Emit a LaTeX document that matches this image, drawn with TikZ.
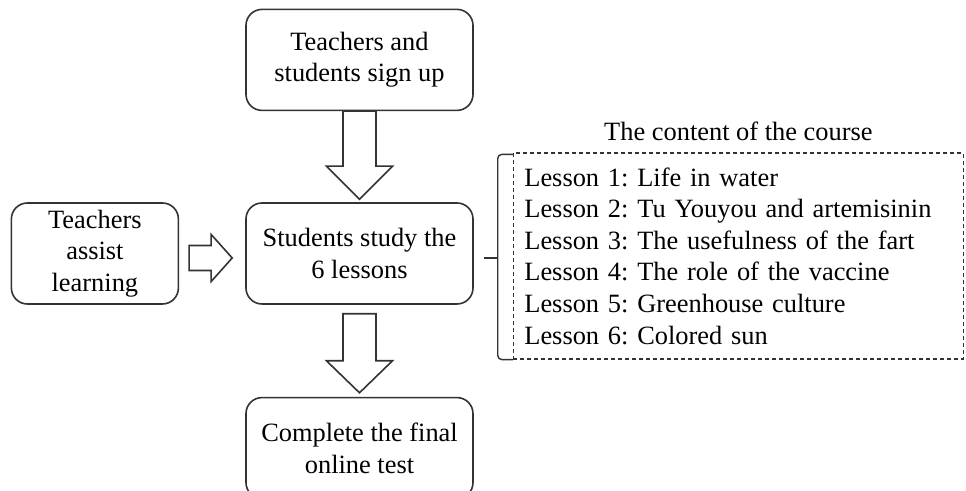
\documentclass[tikz,border=0pt]{standalone}
\usepackage{fontspec}
\setmainfont{Liberation Serif}
\usetikzlibrary{positioning,calc}
\frenchspacing

\begin{document}
\begin{tikzpicture}[x=0.5pt, y=0.5pt, font=\fontsize{13.2}{15.8}\selectfont, every node/.style={inner sep=2pt}]
        \tikzset{
            stage/.style={draw=black!80, line width=0.8pt, rounded corners=8pt, align=center, minimum width=113.5pt, minimum height=50.5pt},
            side/.style={stage, minimum width=83.5pt},
            hollow/.style={draw=black!80, line width=0.8pt, fill=white, line join=miter},
            lessonbox/.style={draw=black!80, line width=0.6pt, dash pattern=on 2pt off 1.5pt, align=left, text width=214pt, inner xsep=5.5pt, minimum height=103pt},
            bracket/.style={draw=black!80, line width=0.7pt, rounded corners=2pt}
        }
        \useasboundingbox (-359.5,-237.5) rectangle (606.5,253.5);

        % Main vertical flow
        \node[stage] (study) at (0,0) {Students study the\\6 lessons};
        \node[stage, above=45.5pt of study] (signup) {Teachers and\\students sign up};
        \node[stage, below=46pt of study] (finaltest) {Complete the final\\online test};
        \node[side, left=33pt of study] (assist) {Teachers\\assist\\learning};

        % Course content on the right
        \node[lessonbox, right=19.5pt of study, yshift=-1.25pt] (lessons) {Lesson 1: Life in water\\Lesson 2: Tu Youyou and artemisinin\\Lesson 3: The usefulness of the fart\\Lesson 4: The role of the vaccine\\Lesson 5: Greenhouse culture\\Lesson 6: Colored sun};
        \node[above=5.5pt of lessons, inner sep=0pt] (coursetitle) {The content of the course};

        % Hollow block arrows between the stages
        \draw[hollow] ($(signup.south)+(-16.5,0)$) -- ++(0,-55) -- ++(-16.5,0) -- ++(33,-33) -- ++(33,33) -- ++(-16.5,0) -- ++(0,55) -- cycle;
        \draw[hollow] ($(study.south)+(-16.5,-9)$) -- ++(0,-47) -- ++(-16.5,0) -- ++(33,-32) -- ++(33,32) -- ++(-16.5,0) -- ++(0,47) -- cycle;
        \draw[hollow] ($(assist.east)+(10,-17)$) -- ++(22,0) -- ++(0,-11) -- ++(21,23.5) -- ++(-21,23.5) -- ++(0,-11) -- ++(-22,0) -- cycle;

        % Bracket joining the study stage to its lessons
        \draw[bracket] ($(lessons.north west)+(0,-2)$) -- ++(-15,0) |- (lessons.south west);
        \draw[bracket] ($(lessons.west)+(-15,-2)$) -- ++(-14,0);
    \end{tikzpicture}
\end{document}
